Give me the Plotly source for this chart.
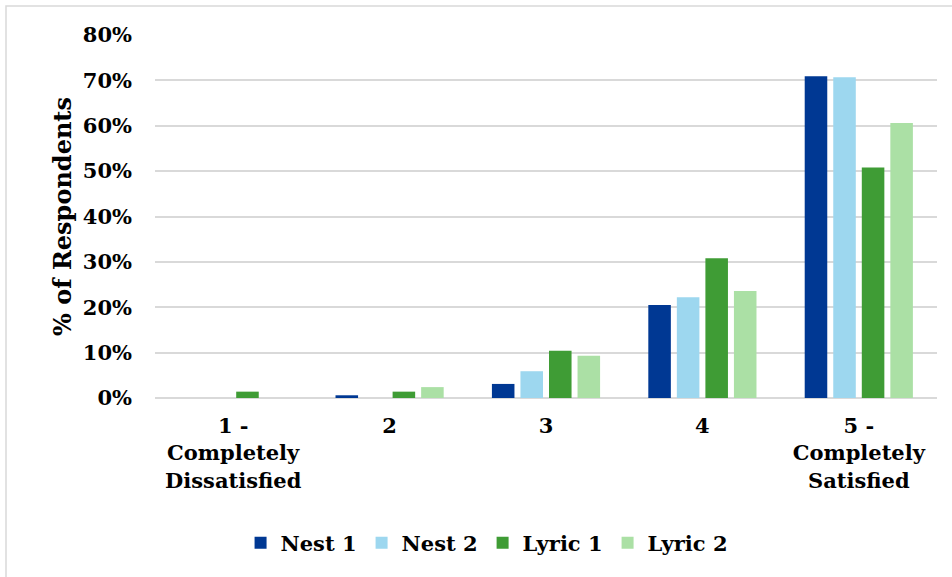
import plotly.graph_objects as go

categories = ["1 -<br>Completely<br>Dissatisfied", "2", "3", "4", "5 -<br>Completely<br>Satisfied"]
series_names = ["Nest 1", "Nest 2", "Lyric 1", "Lyric 2"]
nest_1 = [0.0, 0.6, 3.1, 20.5, 70.9]
nest_2 = [0.0, 0.0, 5.9, 22.2, 70.7]
lyric_1 = [1.4, 1.4, 10.4, 30.8, 50.8]
lyric_2 = [0.0, 2.4, 9.3, 23.6, 60.6]
y_ticks = [0, 10, 20, 30, 40, 50, 60, 70, 80]
y_tick_labels = [f"{v}%" for v in y_ticks]

colors = ["#003893", "#9DD7EF", "#3F9C35", "#ABE0A5"]
serif = "DejaVu Serif"

fig = go.Figure()
for name, vals, col in zip(series_names, [nest_1, nest_2, lyric_1, lyric_2], colors):
    fig.add_trace(go.Bar(
        x=categories, y=vals, name=name,
        marker=dict(color=col, line=dict(width=0)),
        hoverinfo="x+y+name",
    ))

fig.update_layout(
    width=952, height=577,
    margin=dict(l=155, r=15, t=35, b=179),
    paper_bgcolor="white", plot_bgcolor="white",
    barmode="group", bargap=0.27, bargroupgap=0.21,
    font=dict(family=serif, color="black"),
    showlegend=True,
    legend=dict(
        orientation="h", x=0.424, xanchor="center", y=-0.40, yanchor="middle",
        font=dict(family=serif, size=21, color="black", weight="bold"),
        itemwidth=30, tracegroupgap=0,
    ),
    xaxis=dict(
        showgrid=False, zeroline=False, showline=False, ticks="",
        tickfont=dict(family=serif, size=21, color="black", weight="bold"),
        ticklabelstandoff=13,
    ),
    yaxis=dict(
        range=[0, 80], tickmode="array", tickvals=y_ticks, ticktext=y_tick_labels,
        showgrid=True, gridcolor="#D9D9D9", gridwidth=1.5,
        zeroline=True, zerolinecolor="#D9D9D9", zerolinewidth=1.5,
        showline=False, ticks="",
        tickfont=dict(family=serif, size=21, color="black", weight="bold"),
        ticklabelstandoff=22,
        title=dict(text="% of Respondents", standoff=4,
                   font=dict(family=serif, size=24, color="black", weight="bold")),
    ),
    shapes=[dict(
        type="rect", xref="paper", yref="paper",
        x0=(6 - 155) / 782, x1=(960 - 155) / 782,
        y0=(398 - 590) / 363, y1=(398 - 6) / 363,
        line=dict(color="#D9D9D9", width=1.5), layer="below",
    )],
)

fig.write_html("out.html")
